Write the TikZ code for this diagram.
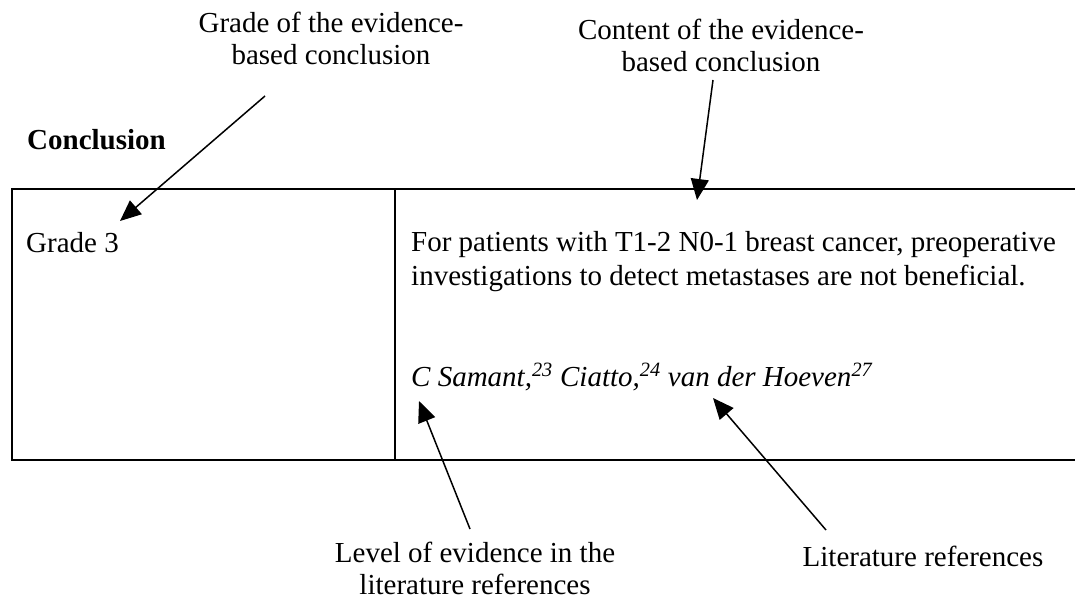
\documentclass[tikz,border=0pt]{standalone}
\usepackage{fontspec}
\setmainfont{Liberation Serif}
\usetikzlibrary{arrows.meta}
\tikzset{
  txt/.style={inner sep=0pt, font=\fontsize{29}{33}\selectfont},
  body/.style={inner sep=0pt, font=\fontsize{29}{34}\selectfont, align=left},
  lbl/.style={inner sep=0pt, font=\fontsize{29}{32}\selectfont, align=center},
  tbl/.style={line width=2pt},
  pointer/.style={line width=1.5pt, -{Triangle[length=21pt,width=18pt]}}
}
\begin{document}
\begin{tikzpicture}[x=1pt,y=-1pt]
\useasboundingbox (0,0) rectangle (1075,602);
% table
\draw[tbl] (1075,189) -- (12,189) -- (12,460) -- (1075,460);
\draw[tbl] (395,189) -- (395,460);
% texts
\node[txt, font=\fontsize{29}{33}\selectfont\bfseries, anchor=base west] (concl) at (27,149) {Conclusion};
\node[txt, anchor=base west] (grade) at (26,252) {Grade 3};
\node[body, anchor=base west] (content) at (411,285) {For patients with T1-2 N0-1 breast cancer, preoperative\\investigations to detect metastases are not beneficial.};
\node[txt, anchor=base west, font=\fontsize{29}{33}\selectfont\itshape] (refs) at (411,386) {C Samant,\textsuperscript{23} Ciatto,\textsuperscript{24} van der Hoeven\textsuperscript{27}};
% labels
\node[lbl, anchor=base] (lgrade) at (331,64) {Grade of the evidence-\\based conclusion};
\node[lbl, anchor=base] (lcontent) at (721,71) {Content of the evidence-\\based conclusion};
\node[lbl, anchor=base] (llevel) at (475,594) {Level of evidence in the\\literature references};
\node[lbl, anchor=base] (llit) at (923,566) {Literature references};
% arrow ends
\coordinate (a1s) at (265,96);  \coordinate (a1e) at (120,221);
\coordinate (a2s) at (713,80);  \coordinate (a2e) at (697,200);
\coordinate (a3s) at (470,529); \coordinate (a3e) at (419,401);
\coordinate (a4s) at (826,530); \coordinate (a4e) at (713,398);
\draw[pointer] (a1s) -- (a1e);
\draw[pointer] (a2s) -- (a2e);
\draw[pointer] (a3s) -- (a3e);
\draw[pointer] (a4s) -- (a4e);
\end{tikzpicture}
\end{document}
